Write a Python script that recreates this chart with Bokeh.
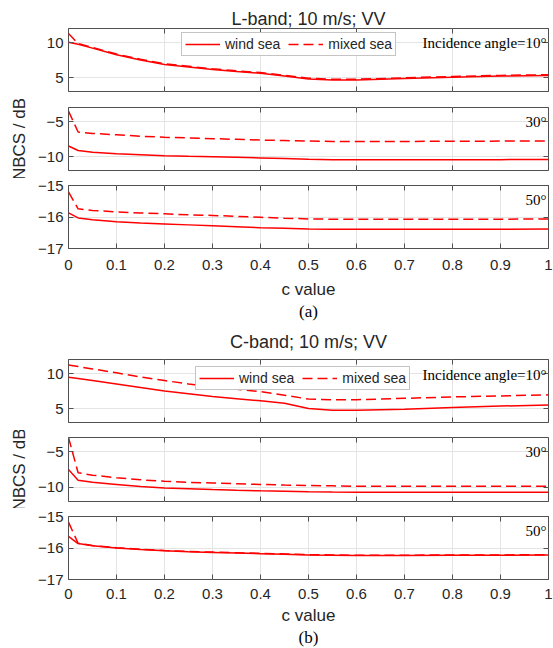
from bokeh.plotting import figure
from bokeh.layouts import column
from bokeh.models import (Range1d, FixedTicker, LinearAxis, Label, Title, Legend,
                          CustomJSTickFormatter)
from bokeh.embed import file_html
from bokeh.resources import INLINE

# ---------------- data ----------------
c_value = [0, 0.02, 0.05, 0.1, 0.15, 0.2, 0.25, 0.3, 0.35, 0.4, 0.45, 0.5,
           0.55, 0.6, 0.7, 0.8, 0.9, 1.0]

# L-band, 10 m/s, VV
L10_wind = [10.05, 9.75, 9.2, 8.25, 7.5, 6.85, 6.5, 6.15, 5.85, 5.6, 5.2, 4.8,
            4.65, 4.65, 4.85, 5.05, 5.2, 5.3]
L10_mixed = [11.3, 9.85, 9.3, 8.35, 7.6, 6.95, 6.6, 6.25, 5.95, 5.7, 5.3, 4.9,
             4.75, 4.75, 4.95, 5.15, 5.3, 5.4]
L30_wind = [-8.5, -9.15, -9.4, -9.6, -9.75, -9.9, -9.98, -10.05, -10.12, -10.2,
            -10.3, -10.4, -10.45, -10.45, -10.45, -10.45, -10.45, -10.42]
L30_mixed = [-3.5, -6.5, -6.7, -6.9, -7.1, -7.25, -7.35, -7.45, -7.55, -7.65,
             -7.72, -7.8, -7.85, -7.85, -7.85, -7.82, -7.8, -7.8]
L50_wind = [-15.87, -16.03, -16.09, -16.15, -16.19, -16.22, -16.25, -16.28,
            -16.31, -16.34, -16.36, -16.38, -16.39, -16.39, -16.39, -16.39,
            -16.39, -16.38]
L50_mixed = [-15.2, -15.74, -15.79, -15.84, -15.87, -15.9, -15.93, -15.95,
             -15.98, -16.01, -16.04, -16.06, -16.07, -16.07, -16.07, -16.07,
             -16.07, -16.06]

# C-band, 10 m/s, VV
C10_wind = [9.45, 9.3, 9.0, 8.5, 8.0, 7.5, 7.1, 6.7, 6.4, 6.1, 5.75, 5.0,
            4.75, 4.75, 4.9, 5.15, 5.35, 5.5]
C10_mixed = [11.2, 11.0, 10.65, 10.1, 9.5, 9.0, 8.5, 8.1, 7.75, 7.4, 6.9, 6.35,
             6.25, 6.25, 6.45, 6.65, 6.8, 6.95]
C30_wind = [-7.5, -9.0, -9.3, -9.6, -9.9, -10.1, -10.22, -10.33, -10.42, -10.5,
            -10.57, -10.63, -10.68, -10.7, -10.7, -10.7, -10.7, -10.7]
C30_mixed = [-3.0, -7.95, -8.3, -8.65, -8.95, -9.15, -9.3, -9.4, -9.5, -9.6,
             -9.68, -9.75, -9.8, -9.85, -9.85, -9.85, -9.85, -9.85]
C50_wind = [-15.63, -15.86, -15.93, -16.0, -16.05, -16.09, -16.12, -16.14,
            -16.16, -16.18, -16.2, -16.22, -16.23, -16.24, -16.24, -16.23,
            -16.23, -16.22]
C50_mixed = [-15.18, -15.85, -15.92, -15.99, -16.04, -16.08, -16.11, -16.13,
             -16.15, -16.17, -16.19, -16.21, -16.22, -16.23, -16.23, -16.22,
             -16.22, -16.21]

x_ticks_coarse = [0, 0.2, 0.4, 0.6, 0.8, 1.0]
x_ticks_fine = [0, 0.1, 0.2, 0.3, 0.4, 0.5, 0.6, 0.7, 0.8, 0.9, 1.0]
y_ticks_10 = [5, 10]
y_ticks_30 = [-10, -5]
y_ticks_50 = [-17, -16, -15]
y_range_10 = (3, 12)
y_range_30 = (-12, -3)
y_range_50 = (-17, -15)

series_labels = ["wind sea", "mixed sea"]
titles = ["L-band; 10 m/s; VV", "C-band; 10 m/s; VV"]
angle_labels = ["Incidence angle=10\u00b0", "30\u00b0", "50\u00b0"]

# ---------------- style ----------------
SANS = "Liberation Sans"
SERIF = "Liberation Serif"
RED = "#ff0000"
FRAME = "#505050"
GRID = "#e4e4e4"
TXT = "#262626"
DASH = "10 5"

fmt = CustomJSTickFormatter(code="return tick.toFixed(1).replace(/\\.0$/, '')")
blank = CustomJSTickFormatter(code="return ''")


def sub(height, top, bottom, left, right, yr, yticks, xticks, wind, mixed,
        label_text, label_y, show_x_labels=False, ylabel=None, title=None,
        title_standoff=0, legend_loc=None, caption=None, tick_standoff=11,
        xlabel_standoff=7):
    p = figure(width=553, height=height, x_range=Range1d(0, 1),
               y_range=Range1d(*yr), output_backend="svg",
               toolbar_location=None, min_border_top=top,
               min_border_bottom=bottom, min_border_left=left,
               min_border_right=right)
    p.outline_line_color = FRAME
    p.outline_line_width = 1
    p.background_fill_color = "white"
    p.border_fill_color = "white"

    xt = FixedTicker(ticks=xticks)
    yt = FixedTicker(ticks=yticks)
    p.xaxis.ticker = xt
    p.yaxis.ticker = yt
    p.xgrid.ticker = xt
    p.ygrid.ticker = yt
    p.grid.grid_line_color = GRID
    p.grid.grid_line_width = 1

    for ax in p.axis:
        ax.major_tick_in = 5
        ax.major_tick_out = 0
        ax.minor_tick_line_color = None
        ax.axis_line_color = None
        ax.major_tick_line_color = FRAME
        ax.major_label_text_font = SANS
        ax.major_label_text_font_size = "15px"
        ax.major_label_text_color = TXT
    p.yaxis.major_label_standoff = 5
    if show_x_labels:
        p.xaxis.formatter = fmt
        p.xaxis.major_label_standoff = tick_standoff
        p.xaxis.axis_label = "c value"
        p.xaxis.axis_label_text_font = SANS
        p.xaxis.axis_label_text_font_size = "17px"
        p.xaxis.axis_label_text_font_style = "normal"
        p.xaxis.axis_label_text_color = TXT
        p.xaxis.axis_label_standoff = xlabel_standoff
    else:
        p.xaxis.formatter = blank
        p.xaxis.major_label_text_font_size = "1px"
        p.xaxis.major_label_standoff = 0
        p.xaxis.axis_label_standoff = 0
    if ylabel:
        p.yaxis.axis_label = ylabel
        p.yaxis.axis_label_text_font = SANS
        p.yaxis.axis_label_text_font_size = "17px"
        p.yaxis.axis_label_text_font_style = "normal"
        p.yaxis.axis_label_text_color = TXT
        p.yaxis.axis_label_standoff = 6

    # ticks on top and right (box on)
    for place, tk in (("above", xt), ("right", yt)):
        ax = LinearAxis(ticker=tk, formatter=blank,
                        major_label_text_font_size="1px",
                        major_tick_in=5, major_tick_out=0,
                        minor_tick_line_color=None, axis_line_color=None,
                        major_label_standoff=0, axis_label_standoff=0,
                        major_tick_line_color=FRAME)
        p.add_layout(ax, place)

    r1 = p.line(c_value, wind, line_color=RED, line_width=1.5)
    r2 = p.line(c_value, mixed, line_color=RED, line_width=1.5, line_dash=DASH)

    p.add_layout(Label(x=1, y=label_y, text=label_text, text_align="right",
                       text_baseline="middle", x_offset=-2, text_font=SERIF,
                       text_font_size="15px", text_color="black"))

    if legend_loc is not None:
        leg = Legend(items=[(series_labels[0], [r1]), (series_labels[1], [r2])],
                     location=legend_loc, orientation="horizontal",
                     label_text_font=SANS, label_text_font_size="14px",
                     label_text_color=TXT, glyph_width=35, glyph_height=12,
                     label_height=12, label_standoff=5, spacing=8, padding=3,
                     margin=0, border_line_color="#8a8a8a",
                     border_line_width=1, background_fill_color="white",
                     background_fill_alpha=1)
        p.add_layout(leg)

    if title:
        p.title.text = title
        p.title.align = "center"
        p.title.text_font = SANS
        p.title.text_font_size = "18px"
        p.title.text_font_style = "normal"
        p.title.text_color = TXT
        p.title.standoff = title_standoff
    if caption:
        p.add_layout(Title(text=caption, align="center", text_font=SERIF,
                           text_font_size="17px", text_font_style="normal",
                           text_color="black", standoff=-4), "below")
    return p


A1 = sub(99, 28, 8, 63, 5, y_range_10, y_ticks_10, x_ticks_coarse, L10_wind,
         L10_mixed, angle_labels[0], 9.9, title=titles[0], title_standoff=0,
         legend_loc=(113, 35))
A2 = sub(79, 8, 8, 63, 5, y_range_30, y_ticks_30, x_ticks_coarse, L30_wind,
         L30_mixed, angle_labels[1], -5, ylabel="NBCS / dB")
A3 = sub(143, 7, 73, 63, 5, y_range_50, y_ticks_50, x_ticks_fine, L50_wind,
         L50_mixed, angle_labels[2], -15.45, show_x_labels=True, caption="(a)")

B1 = sub(109, 38, 8, 68, 1, y_range_10, y_ticks_10, x_ticks_coarse, C10_wind,
         C10_mixed, angle_labels[0], 9.85, title=titles[1], title_standoff=16,
         legend_loc=(127, 32))
B2 = sub(78, 7, 7, 68, 1, y_range_30, y_ticks_30, x_ticks_coarse, C30_wind,
         C30_mixed, angle_labels[1], -5, ylabel="NBCS / dB")
B3 = sub(140, 8, 69, 68, 1, y_range_50, y_ticks_50, x_ticks_fine, C50_wind,
         C50_mixed, angle_labels[2], -15.45, show_x_labels=True, caption="(b)",
         tick_standoff=9, xlabel_standoff=4)

layout = column(A1, A2, A3, B1, B2, B3, spacing=0)

open("out.html", "w").write(file_html(layout, INLINE))
